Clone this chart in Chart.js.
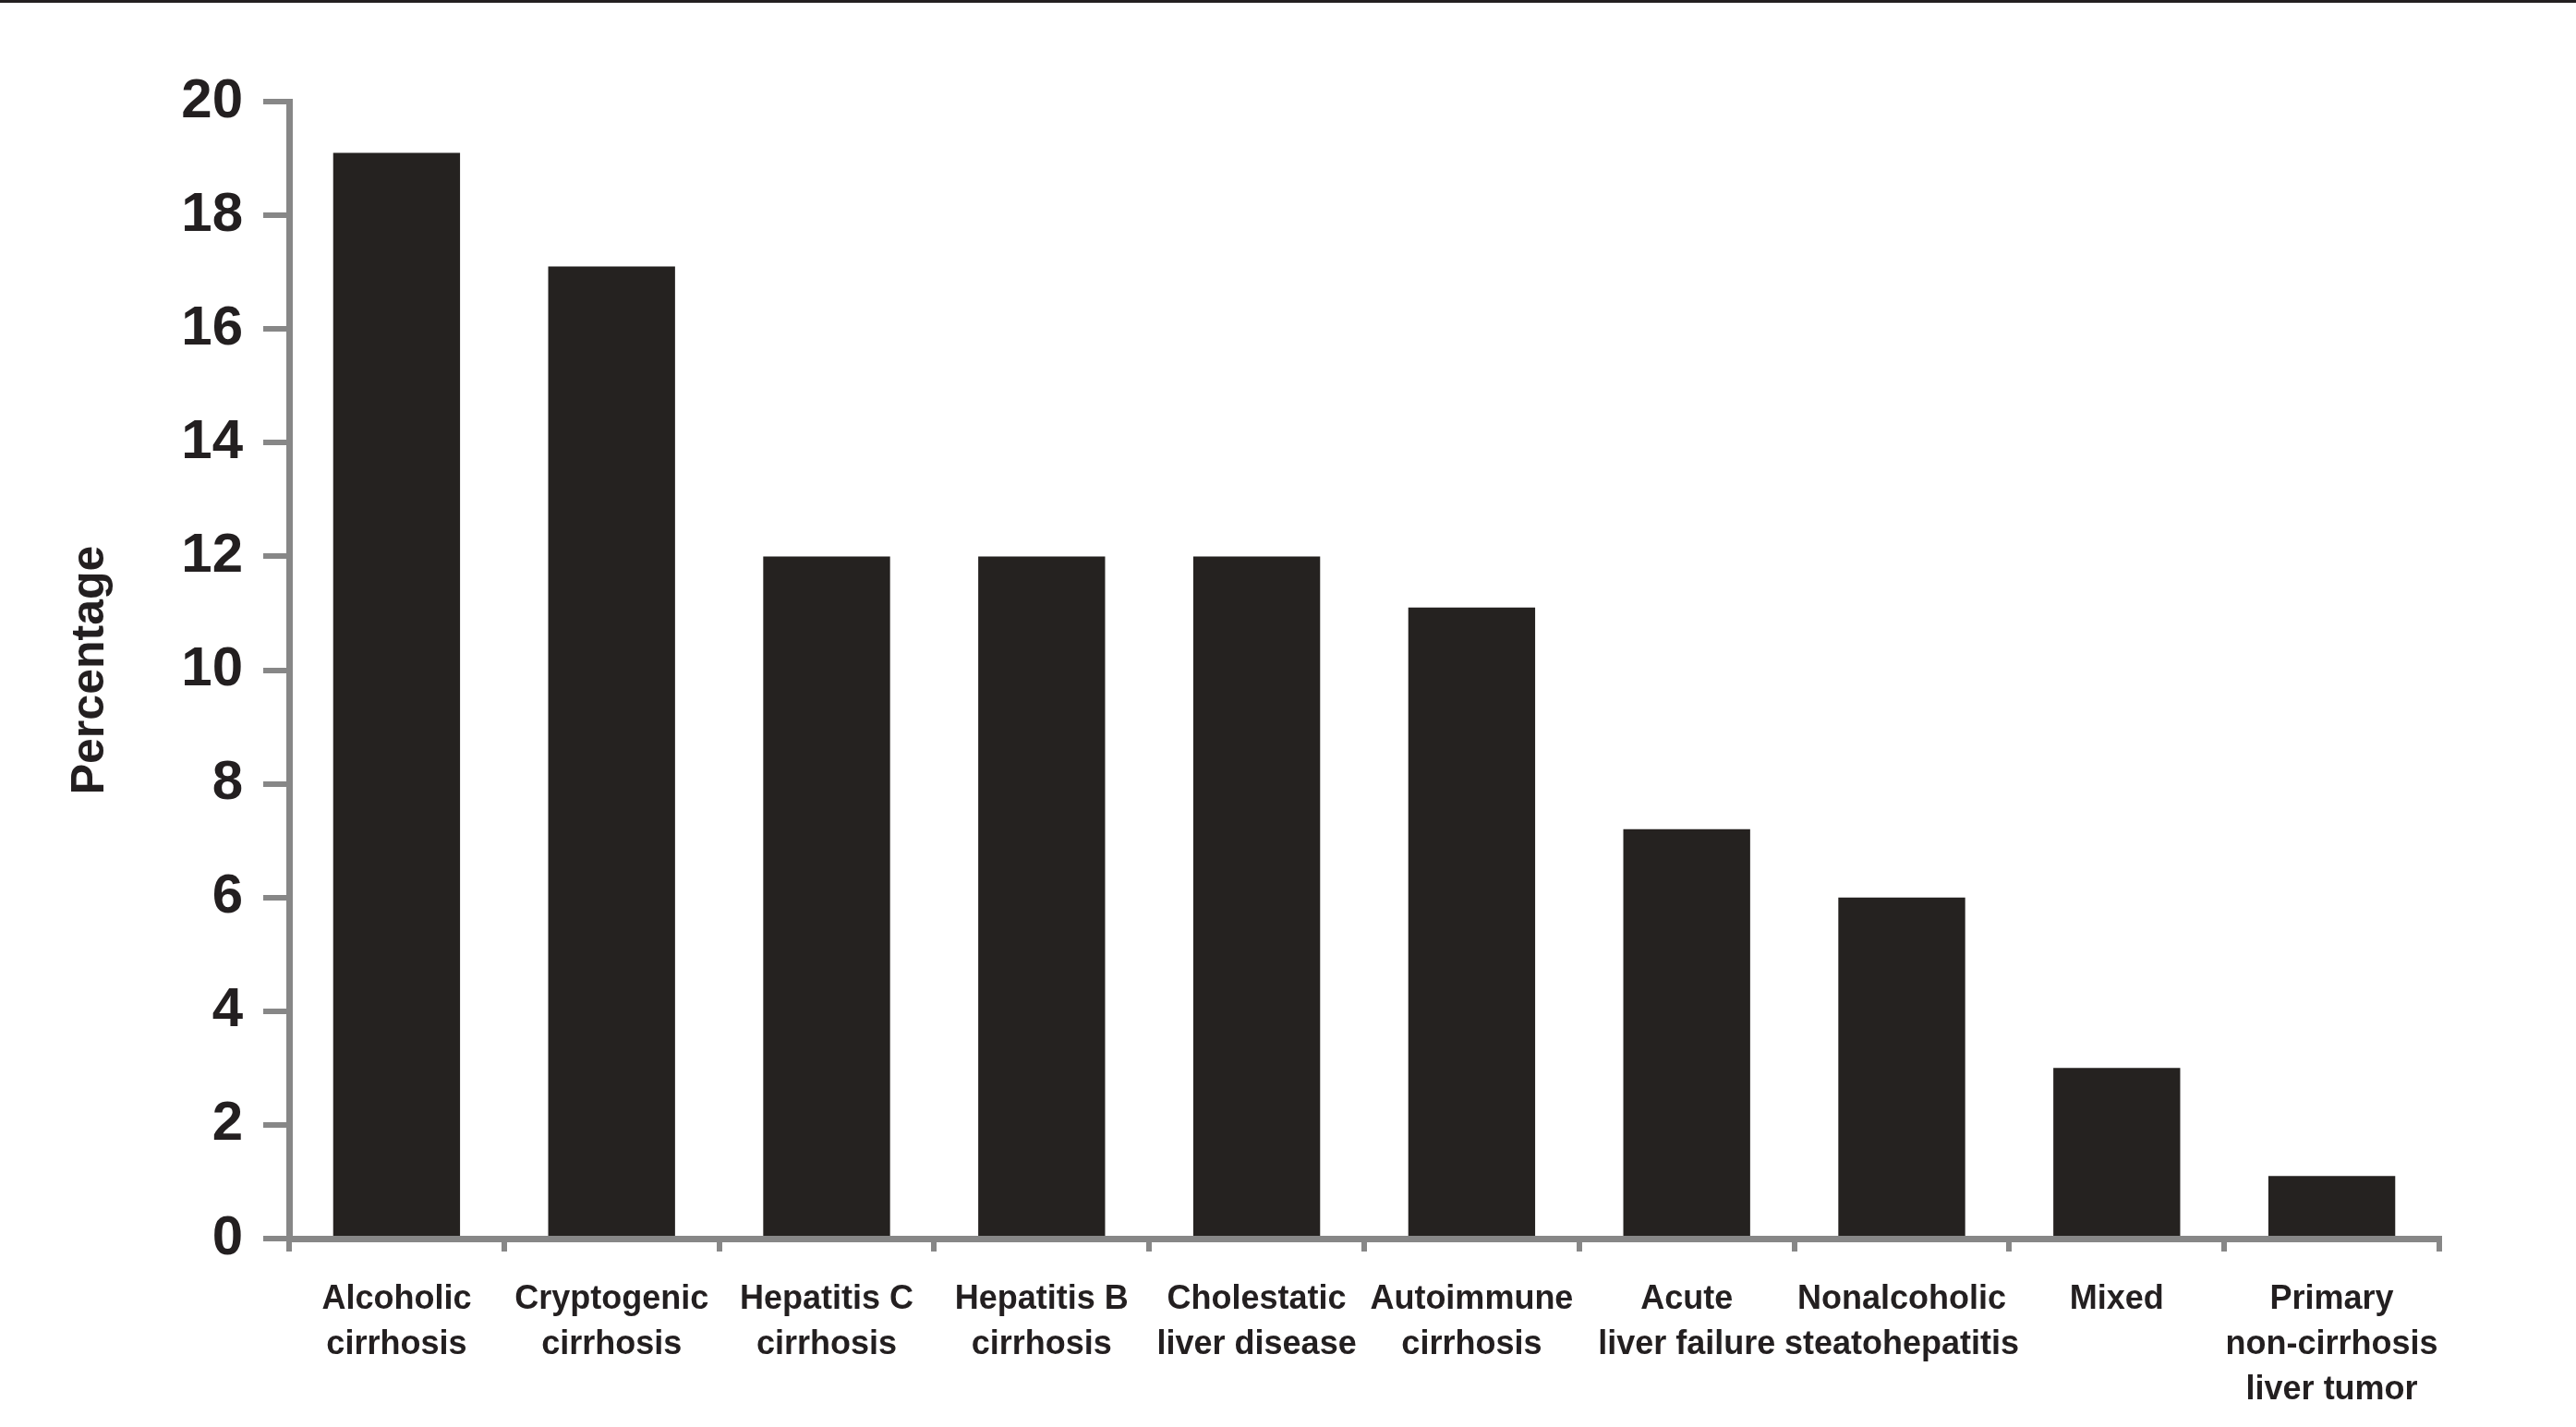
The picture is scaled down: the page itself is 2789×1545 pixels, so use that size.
<!DOCTYPE html>
<html>
<head>
<meta charset="utf-8">
<script src="https://cdn.jsdelivr.net/npm/chart.js@4"></script>
<style>
  html, body { margin: 0; padding: 0; background: #fff; }
  #wrap { position: relative; width: 2789px; height: 1545px; }
  #topline { position: absolute; left: 0; top: 0; width: 2789px; height: 3px; background: #231f20; }
</style>
</head>
<body>
<div id="wrap">
  <canvas id="myChart"></canvas>
  <div id="topline"></div>
</div>
<script>
const categories = [
    ["Alcoholic", "cirrhosis"],
    ["Cryptogenic", "cirrhosis"],
    ["Hepatitis C", "cirrhosis"],
    ["Hepatitis B", "cirrhosis"],
    ["Cholestatic", "liver disease"],
    ["Autoimmune", "cirrhosis"],
    ["Acute", "liver failure"],
    ["Nonalcoholic", "steatohepatitis"],
    ["Mixed"],
    ["Primary", "non-cirrhosis", "liver tumor"]
];
const percentages = [19.1, 17.1, 12.0, 12.0, 12.0, 11.1, 7.2, 6.0, 3.0, 1.1];
const yTicks = [0, 2, 4, 6, 8, 10, 12, 14, 16, 18, 20];

// no narrow face installed, so sizes are trimmed to keep the widths close
const fontFamily = "'Liberation Sans Narrow', 'Arial Narrow', 'Liberation Sans', Arial, sans-serif";
const axisGray = '#878787';
const ink = '#231f20';

const data = {
    labels: categories,
    datasets: [{
        label: "Percentage",
        data: percentages,
        backgroundColor: "#252220",
        borderWidth: 0,
        barPercentage: 0.59,
        categoryPercentage: 1.0
    }]
};

const config = {
    type: 'bar',
    data: data,
    options: {
        responsive: true,
        maintainAspectRatio: false,
        animation: false,
        layout: {
            padding: { top: 110, right: 148, left: 0, bottom: 0 }
        },
        plugins: {
            legend: { display: false },
            tooltip: { enabled: false }
        },
        scales: {
            x: {
                offset: true,
                grid: {
                    display: true,
                    offset: true,
                    drawOnChartArea: false,
                    drawTicks: true,
                    tickLength: 14,
                    color: axisGray,
                    lineWidth: 6
                },
                border: { display: true, color: axisGray, width: 7 },
                ticks: {
                    color: ink,
                    padding: 28,
                    maxRotation: 0,
                    autoSkip: false,
                    font: { family: fontFamily, size: 36, weight: 'bold', lineHeight: 1.36 }
                },
                afterFit: (scale) => { scale.height = 204; }
            },
            y: {
                min: 0,
                max: 20,
                afterBuildTicks: (scale) => {
                    scale.ticks = yTicks.map(v => ({ value: v }));
                },
                grid: {
                    display: true,
                    drawOnChartArea: false,
                    drawTicks: true,
                    tickLength: 28,
                    color: axisGray,
                    lineWidth: 6
                },
                border: { display: true, color: axisGray, width: 7 },
                ticks: {
                    color: ink,
                    padding: 22,
                    font: { family: fontFamily, size: 60, weight: 'bold' }
                },
                title: {
                    display: true,
                    text: 'Percentage',
                    color: ink,
                    padding: { top: 68, bottom: 0 },
                    font: { family: fontFamily, size: 50, weight: 'bold', lineHeight: 1.2 }
                },
                afterFit: (scale) => { scale.width = 313; }
            }
        }
    }
};

const myChart = new Chart(document.getElementById('myChart'), config);
</script>
</body>
</html>
